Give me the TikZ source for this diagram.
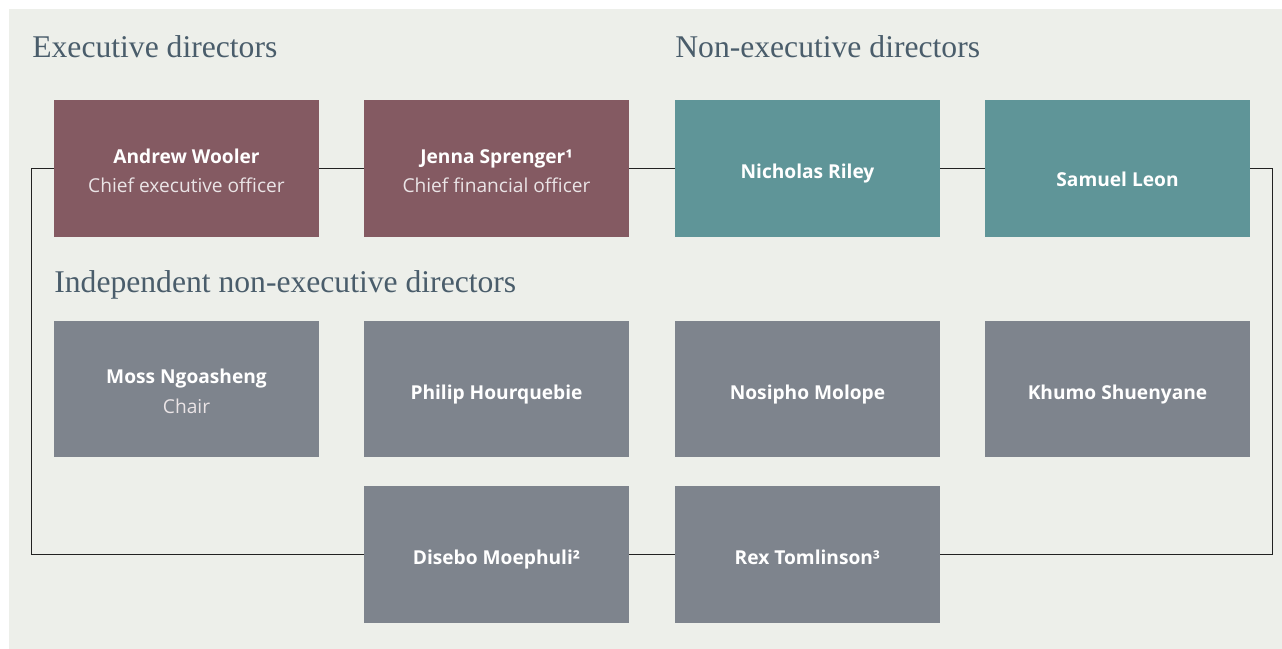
\documentclass[tikz,border=0pt]{standalone}
\usepackage{fontspec}
\setsansfont{Open Sans}
\newfontfamily\headfont{Liberation Serif}
\usepackage{tikz}
\usetikzlibrary{positioning}

\definecolor{bgpaper}{HTML}{EDEFEA}
\definecolor{execred}{HTML}{845A62}
\definecolor{nonexteal}{HTML}{5F9598}
\definecolor{indepgrey}{HTML}{7E848D}
\definecolor{headink}{HTML}{4A5D6B}
\definecolor{subink}{HTML}{EAE4E6}
\definecolor{linkink}{HTML}{222222}

\newcommand{\subrole}[1]{{\mdseries\color{subink}#1}}

\begin{document}
\begin{tikzpicture}[
    x=0.02cm, y=-0.02cm,
    board/.style={minimum width=5.3cm, minimum height=2.74cm, inner sep=0pt, align=center, text=white,
      font=\sffamily\bfseries\fontsize{10.9}{17}\selectfont, text height=13.8pt, text depth=2pt},
    tworole/.style={text height=29.8pt, text depth=2pt},
    exec/.style={board, fill=execred},
    nonexec/.style={board, fill=nonexteal},
    indep/.style={board, fill=indepgrey},
    heading/.style={anchor=base west, inner sep=0pt, text=headink, font=\headfont\fontsize{18}{22}\selectfont},
    link/.style={draw=linkink, line width=0.6pt}
]
\useasboundingbox (0,0) rectangle (1282,649);
\fill[bgpaper] (9,9) rectangle (1282,649);

\node[heading] (hexec) at (32,57) {Executive directors};
\node[heading] (hnonexec) at (675,57) {Non-executive directors};
\node[heading] (hindep) at (54,292) {Independent non-executive directors};

% board members
\node[exec, tworole] (aw) at (186.5,168.5) {Andrew Wooler\\\subrole{Chief executive officer}};
\node[exec, tworole] (js) at (496.5,168.5) {Jenna Sprenger¹\\\subrole{Chief financial officer}};
\node[nonexec] (nr) at (807.5,168.5) {Nicholas Riley};
\node[nonexec, text height=22pt] (sl) at (1117.5,168.5) {Samuel Leon};
\node[indep, tworole] (mn) at (186.5,389) {Moss Ngoasheng\\\subrole{Chair}};
\node[indep] (ph) at (496.5,389) {Philip Hourquebie};
\node[indep] (nm) at (807.5,389) {Nosipho Molope};
\node[indep] (ks) at (1117.5,389) {Khumo Shuenyane};
\node[indep] (dm) at (496.5,554.5) {Disebo Moephuli²};
\node[indep] (rt) at (807.5,554.5) {Rex Tomlinson³};

\draw[link] (aw.east) -- (js.west);
\draw[link] (js.east) -- (nr.west);
\draw[link] (nr.east) -- (sl.west);
\draw[link] (sl.east) -- ++(22,0) |- (rt.east);
\draw[link] (rt.west) -- (dm.east);
\draw[link] (dm.west) -- ++(-332,0) |- (aw.west);
\end{tikzpicture}
\end{document}
